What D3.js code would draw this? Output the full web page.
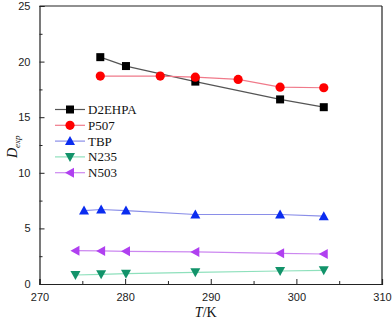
<!DOCTYPE html>
<html>
<head>
<meta charset="utf-8">
<script src="https://cdn.jsdelivr.net/npm/d3@7"></script>
<style>
  body { margin: 0; background: #fff; }
  .tick text { font-family: "Liberation Sans", Arial, sans-serif; font-size: 11px; fill: #222; }
  .legend text, .label { font-family: "Liberation Serif", "Times New Roman", serif; fill: #111; }
</style>
</head>
<body>
<div class="chart"></div>
<script>
// series (T in K, D values)
const names = ["D2EHPA", "P507", "TBP", "N235", "N503"];
const tD2EHPA = [277.1, 280.1, 288.2, 298.1, 303.2];
const dD2EHPA = [20.4, 19.6, 18.2, 16.6, 15.9];
const tP507 = [277.1, 284.1, 288.2, 293.2, 298.1, 303.2];
const dP507 = [18.7, 18.7, 18.6, 18.4, 17.7, 17.65];
const tTBP = [275.2, 277.2, 280.1, 288.2, 298.1, 303.2];
const dTBP = [6.6, 6.7, 6.6, 6.25, 6.25, 6.1];
const tN235 = [274.2, 277.2, 280.1, 288.2, 298.1, 303.2];
const dN235 = [0.81, 0.87, 0.93, 1.05, 1.17, 1.23];
const tN503 = [274.2, 277.2, 280.1, 288.2, 298.1, 303.2];
const dN503 = [3.0, 2.97, 2.94, 2.88, 2.76, 2.7];
const xTicks = [270, 280, 290, 300, 310];
const yTicks = [0, 5, 10, 15, 20, 25];

const series = [
  { name: names[0], t: tD2EHPA, d: dD2EHPA, mark: "square", fill: "#000", line: "#555" },
  { name: names[1], t: tP507, d: dP507, mark: "circle", fill: "#ff0000", line: "#f07a8a" },
  { name: names[2], t: tTBP, d: dTBP, mark: "up", fill: "#0a2cf0", line: "#8a8ee8" },
  { name: names[3], t: tN235, d: dN235, mark: "down", fill: "#12936a", line: "#8ee0bc" },
  { name: names[4], t: tN503, d: dN503, mark: "left", fill: "#b040f0", line: "#cc88f0" }
];

// margin convention
const margin = { top: 6, right: 10, bottom: 37, left: 39.5 };
const width = 392 - margin.left - margin.right,
  height = 321 - margin.top - margin.bottom;

const svg = d3
  .select(".chart")
  .append("svg")
  .attr("width", 392)
  .attr("height", 321)
  .append("g")
  .attr("transform", "translate(" + margin.left + "," + margin.top + ")");

const x = d3.scaleLinear().domain([270, 310]).range([0, width]);
const y = d3.scaleLinear().domain([0, 25]).range([height, 0]);

// minor ticks first
svg.append("g")
  .attr("transform", "translate(0," + height + ")")
  .call(d3.axisBottom(x).tickValues(d3.range(275, 310, 10)).tickSize(-3).tickFormat(""))
  .call(g => g.select(".domain").remove());
svg.append("g")
  .call(d3.axisLeft(y).tickValues(d3.range(2.5, 25, 5)).tickSize(-3).tickFormat(""))
  .call(g => g.select(".domain").remove());

// axes
const xAxis = svg.append("g")
  .attr("transform", "translate(0," + height + ")")
  .call(d3.axisBottom(x).tickValues(xTicks).tickSize(-5).tickPadding(9).tickFormat(d3.format("d")));
const yAxis = svg.append("g")
  .call(d3.axisLeft(y).tickValues(yTicks).tickSize(-5).tickPadding(9).tickFormat(d3.format("d")));
svg.selectAll(".domain").attr("stroke", "#222").attr("stroke-width", 1.2);
svg.selectAll(".tick line").attr("stroke", "#222");

// frame top / right
svg.append("line").attr("x1", 0).attr("x2", width).attr("y1", 0).attr("y2", 0)
  .attr("stroke", "#222").attr("stroke-width", 1.2);
svg.append("line").attr("x1", width).attr("x2", width).attr("y1", 0).attr("y2", height)
  .attr("stroke", "#222").attr("stroke-width", 1.2);

function marker(g, type, fill) {
  const s = 4;
  if (type === "square") {
    g.append("rect").attr("x", -s).attr("y", -s).attr("width", 2 * s).attr("height", 2 * s).attr("fill", fill);
  } else if (type === "circle") {
    g.append("circle").attr("r", 4.6).attr("fill", fill);
  } else {
    const pts = {
      up: [[0, -5], [5, 4], [-5, 4]],
      down: [[0, 5], [5, -4], [-5, -4]],
      left: [[-5, 0], [4, -5], [4, 5]]
    }[type];
    g.append("polygon").attr("points", pts.map(p => p.join(",")).join(" ")).attr("fill", fill);
  }
}

const line = d3.line().x(p => x(p[0])).y(p => y(p[1]));

series.forEach(s => {
  const pts = s.t.map((t, i) => [t, s.d[i]]);
  svg.append("path").datum(pts)
    .attr("d", line).attr("fill", "none")
    .attr("stroke", s.line).attr("stroke-width", 1.2);
  pts.forEach(p => {
    const g = svg.append("g").attr("transform", "translate(" + x(p[0]) + "," + y(p[1]) + ")");
    marker(g, s.mark, s.fill);
  });
});

// legend
const legend = svg.append("g").attr("class", "legend")
  .attr("transform", "translate(" + (55 - margin.left) + "," + (109.5 - margin.top) + ")");
series.forEach((s, i) => {
  const row = legend.append("g").attr("transform", "translate(0," + i * 15.8 + ")");
  row.append("line").attr("x1", 0).attr("x2", 30).attr("stroke", s.line).attr("stroke-width", 1.2);
  marker(row.append("g").attr("transform", "translate(15,0)"), s.mark, s.fill);
  row.append("text").attr("x", 33).attr("y", 4.5).attr("font-size", 13).text(s.name);
});

// axis titles
const xl = svg.append("text").attr("class", "label")
  .attr("x", width / 2 - 5).attr("y", height + 33).attr("text-anchor", "middle").attr("font-size", 14);
xl.append("tspan").attr("font-style", "italic").text("T");
xl.append("tspan").text("/K");

const yl = svg.append("text").attr("class", "label")
  .attr("transform", "translate(" + (17 - margin.left) + "," + (158 - margin.top) + ") rotate(-90)")
  .attr("font-size", 14).attr("font-style", "italic");
yl.append("tspan").text("D");
yl.append("tspan").attr("font-size", 9).attr("dy", 3).text("exp");
</script>
</body>
</html>
